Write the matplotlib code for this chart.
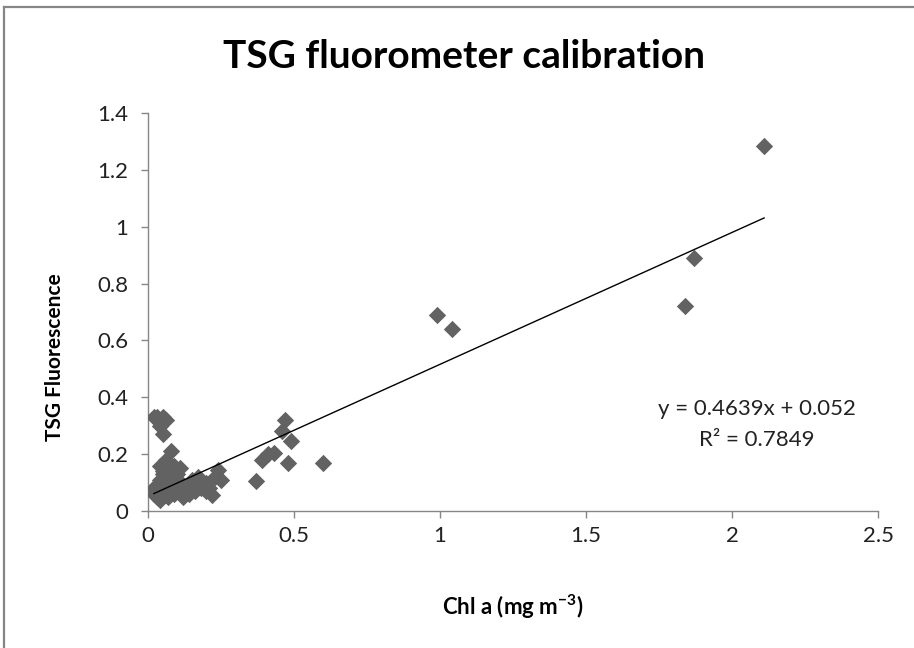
import matplotlib
matplotlib.use("Agg")
import matplotlib.pyplot as plt
from matplotlib.lines import Line2D
import numpy as np

plt.rcParams['font.family'] = ['Lato', 'DejaVu Sans']

# Chl a (mg m^-3)
chl = [
    2.11, 1.87, 1.84, 0.99, 1.04,
    0.60, 0.48, 0.47, 0.46, 0.49, 0.43, 0.39, 0.41, 0.37,
    0.02, 0.03, 0.04, 0.05, 0.06, 0.03, 0.04, 0.05, 0.06, 0.07,
    0.08, 0.09, 0.06, 0.07, 0.05, 0.10, 0.11, 0.12, 0.08, 0.09,
    0.10, 0.11, 0.07, 0.13, 0.14, 0.15, 0.16, 0.17, 0.18, 0.19,
    0.20, 0.21, 0.22, 0.20, 0.23, 0.24, 0.25, 0.18, 0.16, 0.14,
    0.12, 0.02, 0.04, 0.08, 0.05, 0.04, 0.03, 0.05, 0.06, 0.02,
    0.05, 0.07, 0.09, 0.11, 0.04, 0.06,
]
# TSG fluorescence
fluo = [
    1.285, 0.89, 0.72, 0.69, 0.64,
    0.17, 0.17, 0.32, 0.28, 0.245, 0.205, 0.18, 0.20, 0.105,
    0.06, 0.05, 0.07, 0.06, 0.08, 0.09, 0.11, 0.13, 0.10, 0.12,
    0.14, 0.16, 0.15, 0.17, 0.14, 0.13, 0.10, 0.09, 0.07, 0.06,
    0.08, 0.07, 0.05, 0.07, 0.09, 0.11, 0.10, 0.12, 0.11, 0.09,
    0.10, 0.08, 0.055, 0.07, 0.12, 0.145, 0.11, 0.08, 0.07, 0.06,
    0.05, 0.08, 0.04, 0.21, 0.27, 0.30, 0.33, 0.33, 0.32, 0.33,
    0.10, 0.09, 0.12, 0.15, 0.16, 0.18,
]
slope = 0.4639
intercept = 0.052
r2 = 0.7849

xticks = [0, 0.5, 1, 1.5, 2, 2.5]
xticklabels = ['0', '0.5', '1', '1.5', '2', '2.5']
yticks = [0, 0.2, 0.4, 0.6, 0.8, 1.0, 1.2, 1.4]
yticklabels = ['0', '0.2', '0.4', '0.6', '0.8', '1', '1.2', '1.4']

W, H = 914, 648
fig = plt.figure(figsize=(W / 100, H / 100), dpi=100)
ax = fig.add_axes([148 / W, 1 - 511 / H, (878 - 148) / W, (511 - 113) / H])

gray = '#868686'
ax.scatter(chl, fluo, marker='D', s=78, color='#626262', linewidths=0, zorder=3)

xl = np.array([min(chl), max(chl)])
ax.plot(xl, slope * xl + intercept, color='black', lw=1.0, zorder=4)

ax.set_xlim(0, 2.5)
ax.set_ylim(0, 1.4)
ax.set_xticks(xticks)
ax.set_xticklabels(xticklabels)
ax.set_yticks(yticks)
ax.set_yticklabels(yticklabels)
for s in ['top', 'right']:
    ax.spines[s].set_visible(False)
for s in ['left', 'bottom']:
    ax.spines[s].set_color(gray)
    ax.spines[s].set_linewidth(1.0)
ax.tick_params(direction='out', length=5, width=1.0, color=gray,
               labelsize=16, labelcolor='#222222')
ax.tick_params(axis='y', pad=9)
ax.tick_params(axis='x', pad=6)

fig.text(757 / W, 1 - 409 / H, f'y = {slope}x + {intercept}', ha='center', va='center',
         fontsize=16, color='#222222')
fig.text(757 / W, 1 - 440 / H, f'R² = {r2}', ha='center', va='center',
         fontsize=16, color='#222222')

fig.text(464 / W, 1 - 57 / H, 'TSG fluorometer calibration', ha='center', va='center',
         fontsize=28, fontweight='bold', color='black')
fig.text(513 / W, 1 - 607 / H, r'Chl a (mg m$^{\mathregular{-3}}$)', ha='center', va='center',
         fontsize=16, fontweight='bold', color='black')
fig.text(55 / W, 1 - 357 / H, 'TSG Fluorescence', ha='center', va='center', rotation=90,
         fontsize=15, fontweight='bold', color='black')

fig.add_artist(Line2D([4 / W, 4 / W], [0, 1 - 7 / H], transform=fig.transFigure,
                      color=gray, lw=1.6))
fig.add_artist(Line2D([4 / W, 1], [1 - 7 / H, 1 - 7 / H], transform=fig.transFigure,
                      color=gray, lw=1.6))

fig.savefig('out.png', dpi=100)
